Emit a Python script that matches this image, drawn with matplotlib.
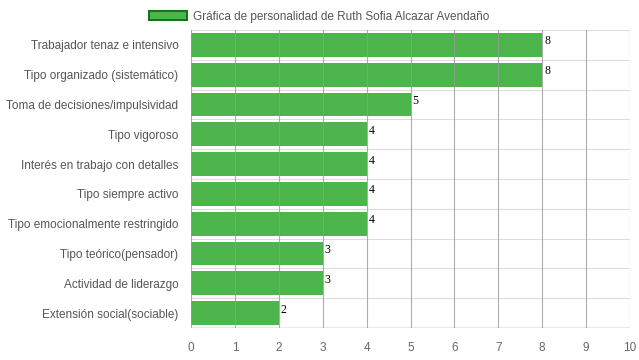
import matplotlib.pyplot as plt
from matplotlib.patches import Patch

categorias = [
    "Trabajador tenaz e intensivo",
    "Tipo organizado (sistemático)",
    "Toma de decisiones/impulsividad",
    "Tipo vigoroso",
    "Interés en trabajo con detalles",
    "Tipo siempre activo",
    "Tipo emocionalmente restringido",
    "Tipo teórico(pensador)",
    "Actividad de liderazgo",
    "Extensión social(sociable)",
]
valores = [8, 8, 5, 4, 4, 4, 4, 3, 3, 2]
ticks_x = list(range(0, 11))
titulo = "Gráfica de personalidad de Ruth Sofia Alcazar Avendaño"

plt.rcParams['font.family'] = ['Liberation Sans', 'DejaVu Sans']

fig = plt.figure(figsize=(6.39, 3.6), dpi=100)
ax = fig.add_axes([191 / 639, 32 / 360, 439 / 639, 298 / 360])

y = list(range(len(categorias)))
ax.barh(y, valores, height=0.8, color="#4cb54c", zorder=1)
for yi, v in zip(y, valores):
    ax.text(v + 0.05, yi - 0.12, str(v), family="Liberation Serif", fontsize=8.5,
            color="black", va="center", ha="left")

ax.set_ylim(len(categorias) - 0.5, -0.5)
ax.set_xlim(0, 10)
ax.set_xticks(ticks_x)
ax.set_yticks(y)
ax.set_yticklabels(categorias, fontsize=8.5, color="#555555")
ax.tick_params(axis="x", labelsize=8.5, labelcolor="#666666", length=0, pad=10)
ax.tick_params(axis="y", length=0, pad=9)

# lineas de cuadricula
for xt in ticks_x:
    ax.axvline(xt, color="#999999", lw=0.8, zorder=2, alpha=0.8)
for k in range(len(categorias) + 1):
    ax.axhline(k - 0.5, color="#dddddd", lw=0.8, zorder=0)

for s in ax.spines.values():
    s.set_visible(False)
ax.axhline(len(categorias) - 0.5, color="#999999", lw=1, zorder=3)

leyenda = [Patch(facecolor="#4cb54c", edgecolor="#137813", linewidth=1.5, label=titulo)]
fig.legend(handles=leyenda, loc="upper center", bbox_to_anchor=(0.5, 1.0), frameon=False,
           fontsize=8.5, labelcolor="#555555", handlelength=3.2, handleheight=0.9,
           handletextpad=0.5)

fig.savefig("out.png", dpi=100)
